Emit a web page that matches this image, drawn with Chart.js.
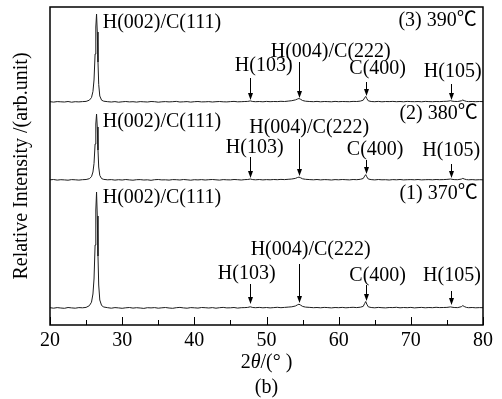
<!DOCTYPE html>
<html>
<head>
<meta charset="utf-8">
<script src="https://cdn.jsdelivr.net/npm/chart.js@4.4.1/dist/chart.umd.min.js"></script>
<style>
  body { margin: 0; background: #fff; }
  canvas { display: block; }
</style>
</head>
<body>
<canvas id="xrdChart" width="502" height="399"></canvas>
<script>
// 2theta grid (degrees), denser around the peaks
const twoTheta = [20, 20.5, 21, 21.5, 22, 22.5, 23, 23.5, 24, 24.5, 25,
    25.45, 25.75, 25.95, 26.1, 26.25, 26.35, 26.45, 26.55, 26.65, 26.75, 26.9, 27.15, 27.45,
    28, 28.5, 29, 29.5, 30, 30.5, 31, 31.5, 32, 32.5, 33, 33.5, 34, 34.5, 35, 35.5, 36, 36.5,
    37, 37.5, 38, 38.5, 39, 39.5, 40, 40.5, 41, 41.5, 42, 42.5, 43, 43.5, 44, 44.5, 45, 45.5, 46, 46.5, 47,
    47.4, 47.75, 48.1,
    48.5, 49, 49.5, 50, 50.5, 51, 51.5, 52, 52.5, 53, 53.5,
    54, 54.3, 54.5, 54.7, 55, 55.4,
    56, 56.5, 57, 57.5, 58, 58.5, 59, 59.5, 60, 60.5, 61, 61.5, 62, 62.5, 63,
    63.4, 63.6, 63.75, 63.9, 64.1,
    64.5, 65, 65.5, 66, 66.5, 67, 67.5, 68, 68.5, 69, 69.5, 70, 70.5, 71, 71.5, 72, 72.5, 73, 73.5, 74, 74.5, 75,
    75.3, 75.5, 75.7,
    76, 76.5, 77, 77.2, 77.4, 77.7,
    78, 78.5, 79, 79.5, 80];

// relative intensity of each sample (arb. units, baseline ~0)
const intensity370 = [0.3, -0.2, 0.4, 0.0, -0.3, 0.5, 0.1, -0.2, 0.4, 0.2, 0.6,
    2.3, 5.8, 14, 29, 63, 98, 116, 92, 52, 23, 8, 2.5, 1.0,
    0.3, -0.2, 0.4, 0.1, -0.3, 0.2, 0.5, -0.1, 0.3, 0.0, -0.4, 0.3, 0.1, 0.4, -0.2, 0.2, 0.5, 0.0,
    -0.3, 0.3, 0.6, 0.1, -0.2, 0.4, 0.2, -0.1, 0.5, 0.3, 0.0, 0.4, -0.2, 0.3, 0.6, 0.1, 0.2, 0.5, -0.1, 0.3, 0.4,
    0.6, 1.2, 0.5,
    0.3, 0.6, 0.2, 0.5, 0.1, 0.4, 0.7, 0.3, 0.6, 0.9, 1.2,
    2.0, 3.2, 3.8, 3.0, 1.6, 0.9,
    0.6, 0.3, 0.5, 0.2, 0.6, 0.4, 0.1, 0.5, 0.3, 0.6, 0.2, 0.5, 0.7, 0.4, 0.8,
    1.6, 4.5, 6.5, 3.8, 1.2,
    0.5, 0.2, 0.6, 0.3, 0.1, 0.5, 0.4, 0.7, 0.2, 0.5, 0.3, 0.6, 0.1, 0.4, 0.6, 0.2, 0.5, 0.3, 0.7, 0.4, 0.5, 0.6,
    0.9, 1.1, 0.8,
    0.5, 0.4, 1.3, 2.4, 1.5, 0.6,
    0.3, 0.5, 0.2, 0.4, 0.3];
const intensity380 = [0.2, 0.5, -0.1, 0.3, 0.1, -0.2, 0.4, 0.2, -0.1, 0.3, 0.5,
    1.3, 3.3, 8, 16.5, 36, 56, 66, 53, 30, 13, 4.6, 1.4, 0.6,
    0.2, 0.4, -0.1, 0.3, 0.0, 0.5, 0.1, -0.2, 0.3, 0.4, 0.0, 0.2, -0.3, 0.3, 0.5, 0.1, 0.2, -0.1,
    0.4, 0.3, 0.0, 0.5, 0.2, -0.2, 0.3, 0.1, 0.4, 0.0, 0.3, 0.5, 0.2, -0.1, 0.4, 0.2, 0.1, 0.5, 0.3, 0.0, 0.4,
    0.5, 1.0, 0.4,
    0.2, 0.5, 0.1, 0.4, 0.2, 0.5, 0.3, 0.6, 0.4, 0.7, 1.0,
    1.6, 2.5, 2.9, 2.3, 1.2, 0.7,
    0.4, 0.2, 0.5, 0.1, 0.4, 0.3, 0.0, 0.4, 0.2, 0.5, 0.3, 0.1, 0.5, 0.3, 0.7,
    1.5, 3.9, 5.4, 3.2, 1.0,
    0.4, 0.1, 0.5, 0.2, 0.3, 0.0, 0.4, 0.2, 0.5, 0.1, 0.3, 0.4, 0.2, 0.5, 0.1, 0.3, 0.4, 0.2, 0.5, 0.3, 0.4, 0.6,
    0.8, 1.0, 0.7,
    0.4, 0.3, 0.9, 1.6, 1.0, 0.4,
    0.2, 0.4, 0.1, 0.3, 0.2];
const intensity390 = [0.3, -0.1, 0.4, 0.2, 0.0, 0.5, -0.2, 0.3, 0.1, 0.4, 0.6,
    1.8, 4.4, 10.5, 22, 48, 75, 88, 70, 40, 17.6, 6, 1.8, 0.8,
    0.3, 0.0, 0.4, -0.2, 0.2, 0.5, 0.1, 0.3, -0.1, 0.4, 0.2, 0.0, 0.5, 0.3, -0.2, 0.2, 0.4, 0.1,
    0.3, 0.6, 0.0, 0.2, 0.4, -0.1, 0.3, 0.5, 0.1, 0.2, 0.4, 0.0, 0.3, 0.5, 0.2, 0.1, 0.4, 0.6, 0.2, 0.3, 0.5,
    0.6, 1.1, 0.5,
    0.3, 0.5, 0.2, 0.6, 0.3, 0.5, 0.4, 0.7, 0.5, 0.9, 1.3,
    2.1, 3.0, 3.5, 2.8, 1.5, 0.8,
    0.5, 0.3, 0.6, 0.2, 0.5, 0.4, 0.2, 0.6, 0.3, 0.5, 0.4, 0.3, 0.6, 0.5, 0.9,
    1.8, 4.2, 5.6, 3.4, 1.2,
    0.5, 0.3, 0.6, 0.2, 0.5, 0.4, 0.6, 0.3, 0.5, 0.2, 0.6, 0.4, 0.3, 0.5, 0.2, 0.6, 0.4, 0.3, 0.5, 0.4, 0.6, 0.7,
    1.0, 1.3, 0.9,
    0.6, 0.5, 1.2, 2.0, 1.3, 0.6,
    0.4, 0.5, 0.3, 0.5, 0.4];

// vertical stacking offset of each pattern
const stackOffset = [17, 145, 223];
const sampleNames = ['(1) 370℃', '(2) 380℃', '(3) 390℃'];

// indexed reflections
const peakPos = [26.45, 47.75, 54.5, 63.8, 75.5];
const peakNames = ['H(002)/C(111)', 'H(103)', 'H(004)/C(222)', 'C(400)', 'H(105)'];

const xTicks = [20, 30, 40, 50, 60, 70, 80];

// label / arrow placement for each pattern (in axis units)
const annotLayout = [
    {
        sample: [79.27, 131],
        labels: [[27.3, 127], [47.25, 51], [56.12, 75], [65.4, 49], [75.7, 49]],
        arrows: [null, [41, 21], [61, 22], [40, 24], [34, 20]]
    },
    {
        sample: [79.27, 211],
        labels: [[27.3, 203], [48.36, 177], [55.92, 197], [65.06, 175], [75.6, 174]],
        arrows: [null, [168, 147], [186, 149], [165, 151], [161, 147]]
    },
    {
        sample: [79.13, 304],
        labels: [[27.3, 302], [49.61, 259], [58.9, 273], [65.4, 256], [75.8, 253]],
        arrows: [null, [247, 225], [263, 227], [243, 229], [241, 225]]
    }
];

const SERIF = '"Liberation Serif", "Times New Roman", "Noto Sans CJK SC", serif';

const seriesList = [intensity370, intensity380, intensity390];
const datasets = seriesList.map((s, k) => ({
    label: sampleNames[k],
    data: twoTheta.map((t, i) => ({ x: t, y: s[i] + stackOffset[k] })),
    borderColor: '#1c1c1c',
    borderWidth: 1,
    pointRadius: 0,
    tension: 0,
    fill: false
}));

// frame, inward ticks, annotations, x-axis title
const decorations = {
    id: 'decorations',
    afterDraw(chart) {
        const { ctx, chartArea: a, scales: { x, y } } = chart;
        ctx.save();

        ctx.strokeStyle = '#000';
        ctx.lineWidth = 1;
        for (let v = 20; v <= 80; v += 5) {
            const px = Math.round(x.getPixelForValue(v)) + 0.5;
            const len = v % 10 === 0 ? 8 : 5;
            ctx.beginPath();
            ctx.moveTo(px, a.bottom);
            ctx.lineTo(px, a.bottom - len);
            ctx.stroke();
        }
        ctx.lineWidth = 1.5;
        ctx.strokeRect(a.left, a.top, a.right - a.left, a.bottom - a.top);

        ctx.fillStyle = '#000';
        ctx.font = '20px ' + SERIF;
        ctx.textBaseline = 'middle';
        annotLayout.forEach((lay, k) => {
            ctx.textAlign = 'right';
            ctx.fillText(sampleNames[k], x.getPixelForValue(lay.sample[0]), y.getPixelForValue(lay.sample[1]));
            peakNames.forEach((name, p) => {
                const [lx, ly] = lay.labels[p];
                ctx.textAlign = p === 0 ? 'left' : 'center';
                ctx.fillText(name, x.getPixelForValue(lx), y.getPixelForValue(ly));
                const arr = lay.arrows[p];
                if (!arr) return;
                const ax = Math.round(x.getPixelForValue(peakPos[p])) + 0.5;
                const y0 = y.getPixelForValue(arr[0]);
                const y1 = y.getPixelForValue(arr[1]);
                ctx.lineWidth = 1;
                ctx.beginPath();
                ctx.moveTo(ax, y0);
                ctx.lineTo(ax, y1 - 6);
                ctx.stroke();
                ctx.beginPath();
                ctx.moveTo(ax - 2.5, y1 - 7);
                ctx.lineTo(ax + 2.5, y1 - 7);
                ctx.lineTo(ax, y1);
                ctx.closePath();
                ctx.fill();
            });
        });

        // 2θ/(° ) with italic theta, then panel tag
        const cx = (a.left + a.right) / 2;
        const ty = a.bottom + 38;
        const parts = [['2', 'normal'], ['θ', 'italic'], ['/(° )', 'normal']];
        let total = 0;
        parts.forEach(([t, st]) => {
            ctx.font = st + ' 20px ' + SERIF;
            total += ctx.measureText(t).width;
        });
        let px = cx - total / 2;
        ctx.textAlign = 'left';
        parts.forEach(([t, st]) => {
            ctx.font = st + ' 20px ' + SERIF;
            ctx.fillText(t, px, ty);
            px += ctx.measureText(t).width;
        });
        ctx.font = '20px ' + SERIF;
        ctx.textAlign = 'center';
        ctx.fillText('(b)', cx, a.bottom + 63);

        ctx.restore();
    }
};

new Chart(document.getElementById('xrdChart'), {
    type: 'line',
    data: { datasets },
    plugins: [decorations],
    options: {
        responsive: false,
        animation: false,
        devicePixelRatio: 1,
        layout: { padding: { top: 7, right: 19, left: 0, bottom: 0 } },
        plugins: {
            legend: { display: false },
            tooltip: { enabled: false }
        },
        scales: {
            x: {
                type: 'linear',
                min: 20,
                max: 80,
                afterFit: scale => { scale.height = 74; },
                afterBuildTicks: scale => { scale.ticks = xTicks.map(v => ({ value: v })); },
                grid: { display: false, drawTicks: false },
                border: { display: false },
                ticks: {
                    color: '#000',
                    padding: 4,
                    maxRotation: 0,
                    font: { family: SERIF, size: 20 }
                }
            },
            y: {
                min: 0,
                max: 318,
                afterFit: scale => { scale.width = 50; },
                grid: { display: false, drawTicks: false },
                border: { display: false },
                ticks: { display: false },
                title: {
                    display: true,
                    text: 'Relative Intensity /(arb.unit)',
                    color: '#000',
                    padding: { top: 10, bottom: 0 },
                    font: { family: SERIF, size: 20 }
                }
            }
        }
    }
});
</script>
</body>
</html>
